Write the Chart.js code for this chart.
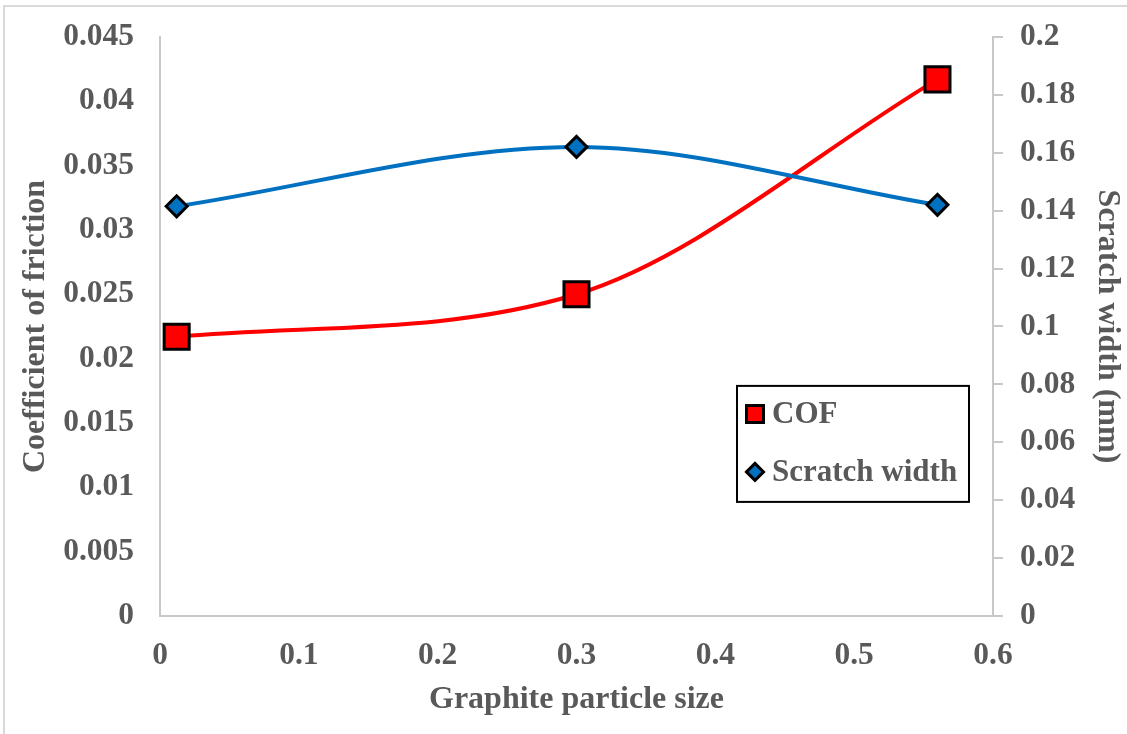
<!DOCTYPE html>
<html>
<head>
<meta charset="utf-8">
<title>COF and scratch width vs graphite particle size</title>
<script src="https://cdn.jsdelivr.net/npm/chart.js@4.4.0/dist/chart.umd.min.js"></script>
<style>
  body { margin: 0; background: #fff; }
  #wrap { position: relative; width: 1127px; height: 734px; overflow: hidden; }
  #frame { position: absolute; left: 3px; top: 5px; right: -4px; bottom: -4px;
           border-top: 2px solid #d9d9d9; border-left: 2px solid #d9d9d9; }
  canvas { position: absolute; left: 0; top: 0; }
</style>
</head>
<body>
<div id="wrap">
  <div id="frame"></div>
  <canvas id="myChart" width="1127" height="734"></canvas>
</div>
<script>
// values
const particleSizes = [0.012, 0.3, 0.56];
const cofValues = [0.0217, 0.025, 0.0417];
const scratchWidths = [0.1415, 0.162, 0.142];

const xTickLabels = ['0', '0.1', '0.2', '0.3', '0.4', '0.5', '0.6'];
const cofTickLabels = ['0', '0.005', '0.01', '0.015', '0.02', '0.025', '0.03', '0.035', '0.04', '0.045'];
const widthTickLabels = ['0', '0.02', '0.04', '0.06', '0.08', '0.1', '0.12', '0.14', '0.16', '0.18', '0.2'];

const textGrey = '#595959';
const axisGrey = '#c8c8c8';
const FONT = "'Liberation Serif', 'Times New Roman', serif";

const tickFont = { family: FONT, size: 31.5, weight: 'bold' };
const titleFont = { family: FONT, size: 32, weight: 'bold' };

// legend drawn inside the plot, Excel style
const boxLegend = {
  id: 'boxLegend',
  afterDraw(chart) {
    const ctx = chart.ctx;
    const area = chart.chartArea;
    const left = area.left + 577, top = area.top + 349, w = 232, h = 116;
    ctx.save();
    ctx.lineWidth = 2;
    ctx.strokeStyle = '#000';
    ctx.strokeRect(left, top, w, h);
    const rows = [top + 28, top + 86];
    const sizes = [12, 8.5];
    chart.data.datasets.forEach((ds, i) => {
      const cx = left + 18, cy = rows[i];
      ctx.fillStyle = ds.pointBackgroundColor;
      ctx.strokeStyle = ds.pointBorderColor;
      ctx.lineWidth = 3;
      Chart.helpers.drawPoint(ctx, { pointStyle: ds.pointStyle, radius: sizes[i], borderWidth: 3, rotation: 0 }, cx, cy);
      ctx.fillStyle = textGrey;
      ctx.font = 'bold 31px ' + FONT;
      ctx.textAlign = 'left';
      ctx.textBaseline = 'middle';
      ctx.fillText(ds.label, left + 35, cy + 1);
    });
    ctx.restore();
  }
};

const ctx = document.getElementById('myChart').getContext('2d');
new Chart(ctx, {
  type: 'scatter',
  data: {
    datasets: [{
      label: 'COF',
      data: particleSizes.map((x, i) => ({ x: x, y: cofValues[i] })),
      yAxisID: 'y',
      showLine: true,
      cubicInterpolationMode: 'monotone',
      borderColor: '#ff0000',
      borderWidth: 4,
      pointStyle: 'rect',
      pointRadius: 17.7,
      pointBackgroundColor: '#ff0000',
      pointBorderColor: '#000000',
      pointBorderWidth: 3,
      order: 1
    }, {
      label: 'Scratch width',
      data: particleSizes.map((x, i) => ({ x: x, y: scratchWidths[i] })),
      yAxisID: 'y1',
      showLine: true,
      cubicInterpolationMode: 'monotone',
      borderColor: '#0070c0',
      borderWidth: 4,
      pointStyle: 'rectRot',
      pointRadius: 10.5,
      pointBackgroundColor: '#0070c0',
      pointBorderColor: '#000000',
      pointBorderWidth: 3,
      order: 0
    }]
  },
  options: {
    responsive: false,
    animation: false,
    devicePixelRatio: 1,
    clip: false,
    layout: { padding: { top: 22, left: 0, right: 0, bottom: 0 } },
    plugins: {
      legend: { display: false },
      tooltip: { enabled: false }
    },
    scales: {
      x: {
        type: 'linear',
        position: 'bottom',
        min: 0, max: 0.6,
        grid: { display: false },
        border: { display: true, color: axisGrey, width: 2 },
        ticks: {
          stepSize: 0.1, color: textGrey, font: tickFont, padding: 13,
          maxRotation: 0, autoSkip: false,
          callback: (v, i) => xTickLabels[i]
        },
        title: { display: true, text: 'Graphite particle size', color: textGrey, font: titleFont, padding: { top: 0, bottom: 15 } },
        afterFit: s => { s.height = 118; }
      },
      y: {
        type: 'linear',
        position: 'left',
        min: 0, max: 0.045,
        grid: { display: false },
        border: { display: true, color: axisGrey, width: 2 },
        ticks: {
          stepSize: 0.005, color: textGrey, font: tickFont, padding: 18,
          callback: (v, i) => cofTickLabels[i]
        },
        title: { display: true, text: 'Coefficient of friction', color: textGrey, font: titleFont, padding: { top: 17, bottom: 0 } },
        afterFit: s => { s.width = 160; }
      },
      y1: {
        type: 'linear',
        position: 'right',
        min: 0, max: 0.2,
        grid: { display: true, drawOnChartArea: false, drawTicks: true, tickLength: 10, color: axisGrey, lineWidth: 2 },
        border: { display: true, color: axisGrey, width: 2 },
        ticks: {
          stepSize: 0.02, color: textGrey, font: tickFont, padding: 17,
          callback: (v, i) => widthTickLabels[i]
        },
        title: { display: true, text: 'Scratch width (mm)', color: textGrey, font: titleFont, padding: { top: 1, bottom: 0 } },
        afterFit: s => { s.width = 134; }
      }
    }
  },
  plugins: [boxLegend]
});
</script>
</body>
</html>
